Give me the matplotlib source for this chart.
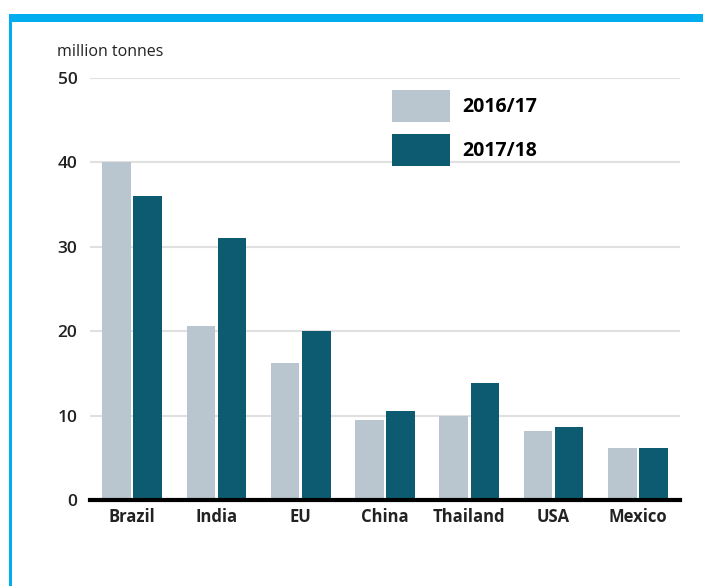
import matplotlib.pyplot as plt
from matplotlib.patches import Rectangle
import numpy as np

# dados (milhões de toneladas)
countries = ["Brazil", "India", "EU", "China", "Thailand", "USA", "Mexico"]
season_1617 = [40.0, 20.6, 16.2, 9.5, 10.0, 8.2, 6.2]
season_1718 = [36.0, 31.1, 20.0, 10.5, 13.9, 8.6, 6.2]
series_labels = ["2016/17", "2017/18"]
y_ticks = [0, 10, 20, 30, 40, 50]

light = "#b9c6cf"
dark = "#0d5b70"
border = "#00aeef"

plt.rcParams['font.family'] = ['Open Sans', 'DejaVu Sans']

fig = plt.figure(figsize=(7.03, 5.86), dpi=100)
ax = fig.add_axes([90 / 703, 1 - 500 / 586, 590 / 703, 422 / 586])

# moldura azul (barra superior e linha da esquerda)
fig.add_artist(Rectangle((9 / 703, 1 - 22 / 586), 1, 8 / 586, transform=fig.transFigure,
                         color=border, lw=0))
fig.add_artist(Rectangle((9 / 703, 0), 3 / 703, 1 - 14 / 586, transform=fig.transFigure,
                         color=border, lw=0))

x = np.arange(len(countries))
w = 0.34
ax.bar(x - 0.185, season_1617, w, color=light, label=series_labels[0], zorder=2)
ax.bar(x + 0.185, season_1718, w, color=dark, label=series_labels[1], zorder=2)

ax.set_xlim(-0.5, len(countries) - 0.5)
ax.set_ylim(0, 50)
ax.set_yticks(y_ticks)
ax.set_yticklabels([str(t) for t in y_ticks], fontsize=12.5, fontweight='semibold')
ax.set_xticks(x)
ax.set_xticklabels(countries, fontsize=12, fontweight='bold')
ax.tick_params(axis='both', length=0, colors='#222222')
ax.tick_params(axis='y', pad=9)
ax.tick_params(axis='x', pad=6)

ax.grid(axis='y', color='#e0e0e0', lw=1.5, zorder=0)
for s in ['top', 'right', 'left']:
    ax.spines[s].set_visible(False)
ax.spines['bottom'].set_linewidth(3)
ax.spines['bottom'].set_color('black')
ax.spines['bottom'].set_zorder(3)

fig.text(57 / 703, 1 - 52 / 586, "million tonnes", fontsize=11.5, color='#222222', va='center')

leg = ax.legend(loc='upper left', bbox_to_anchor=(294 / 590, 1 - 4 / 422), frameon=False,
                prop={'size': 14, 'weight': 'bold'}, handlelength=3.0, handleheight=2.15,
                labelspacing=0.63, handletextpad=0.65, borderaxespad=0)

fig.savefig("out.png", dpi=100)
